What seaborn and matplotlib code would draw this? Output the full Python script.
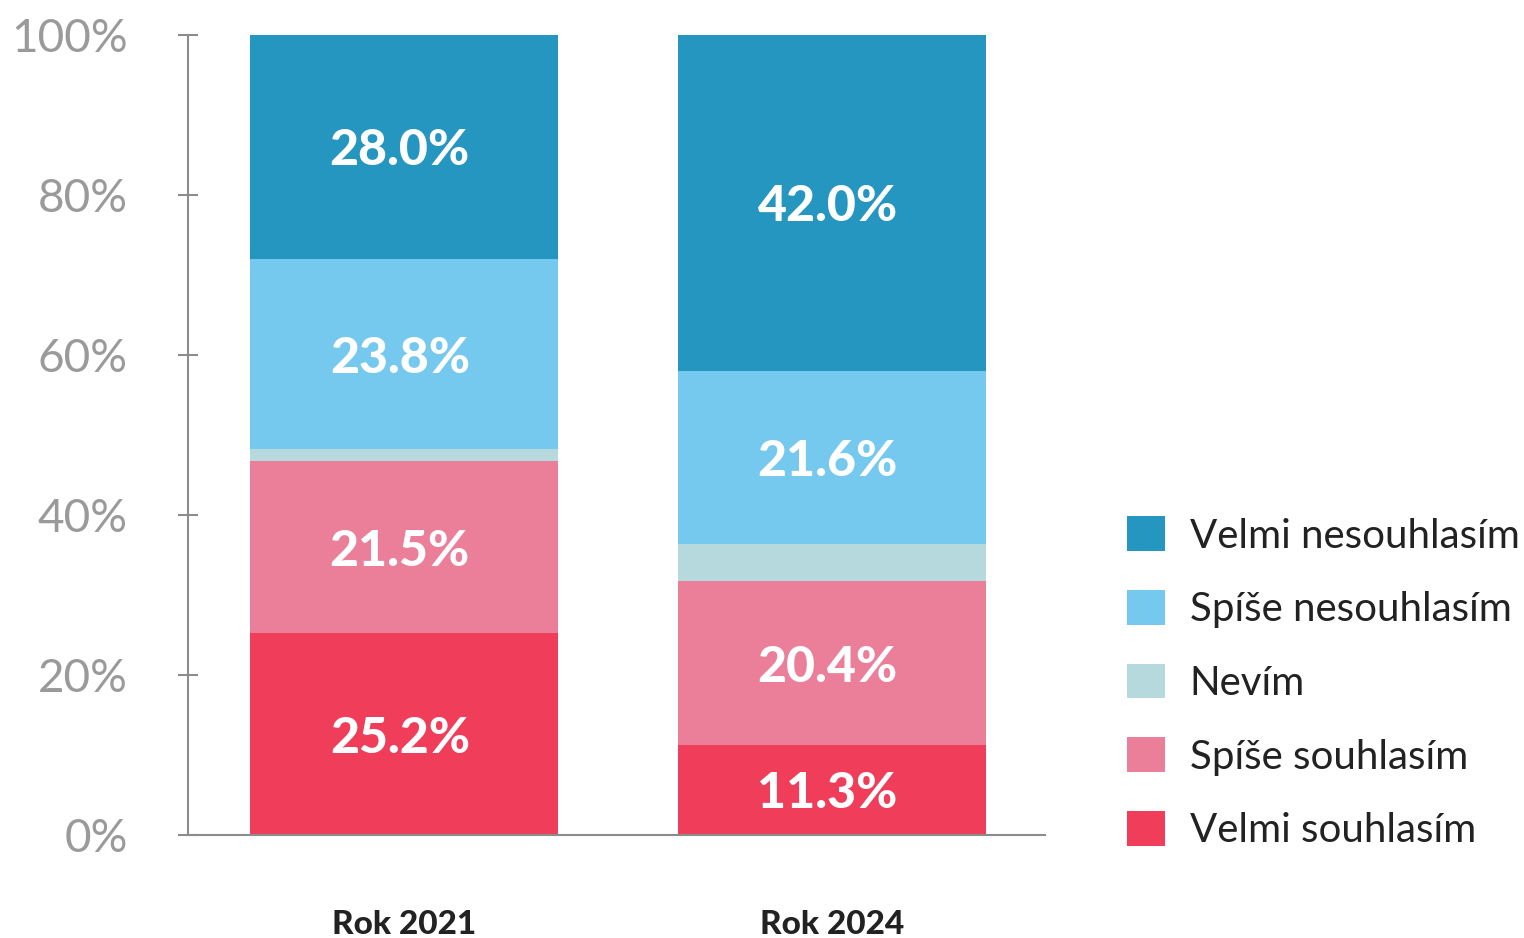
import pandas as pd
import matplotlib.pyplot as plt
import seaborn as sns
from matplotlib.patches import Patch

# Data
years = ['Rok 2021', 'Rok 2024']
answers = ['Velmi souhlasím', 'Spíše souhlasím', 'Nevím', 'Spíše nesouhlasím', 'Velmi nesouhlasím']
velmi_souhlasim = [25.2, 11.3]
spise_souhlasim = [21.5, 20.4]
nevim = [1.5, 4.7]
spise_nesouhlasim = [23.8, 21.6]
velmi_nesouhlasim = [28.0, 42.0]

colors = ['#EF3D5A', '#EB7F99', '#B6D9DD', '#76C9EE', '#2496BF']

series = [velmi_souhlasim, spise_souhlasim, nevim, spise_nesouhlasim, velmi_nesouhlasim]

sns.set_style('white')
plt.rcParams['font.family'] = ['Lato', 'DejaVu Sans']

fig = plt.figure(figsize=(15.24, 9.38), dpi=100)
ax = fig.add_axes([0.1234, 0.1098, 0.5623, 0.8529])

bottom = [0.0, 0.0]
for name, vals, col in zip(answers, series, colors):
    df = pd.DataFrame({'rok': years, 'pct': vals})
    sns.barplot(data=df, x='rok', y='pct', color=col, width=0.72,
                bottom=bottom, errorbar=None, saturation=1, linewidth=0, ax=ax)
    # labels only for the bigger segments
    for i, v in enumerate(vals):
        if v > 10:
            ax.text(i - 0.01, bottom[i] + v / 2, f'{v:.1f}%', ha='center', va='center_baseline',
                    color='white', fontsize=36, fontweight='black')
    bottom = [b + v for b, v in zip(bottom, vals)]

ax.set_xlim(-0.505, 1.498)
ax.set_ylim(0, 100)
ax.set_yticks([0, 20, 40, 60, 80, 100])
ax.set_yticklabels(['0%', '20%', '40%', '60%', '80%', '100%'])
ax.set_xlabel('')
ax.set_ylabel('')

sns.despine(ax=ax, top=True, right=True)
for s in ['left', 'bottom']:
    ax.spines[s].set_color('#8c8c8c')
    ax.spines[s].set_linewidth(1.5)

ax.tick_params(axis='y', direction='inout', length=15, width=1.5, color='#8c8c8c',
               labelsize=33, labelcolor='#9a9a9a', pad=36, left=True)
ax.tick_params(axis='x', length=0, pad=54, labelsize=24)
for lbl in ax.get_xticklabels():
    lbl.set_fontweight('black')
    lbl.set_color('#222222')

handles = [Patch(facecolor=c, edgecolor='none') for c in colors][::-1]
leg = fig.legend(handles, answers[::-1], loc='center left',
                 bbox_to_anchor=(0.7396, 0.272), frameon=False, fontsize=29,
                 handlelength=0.95, handleheight=0.95, handletextpad=0.6,
                 labelspacing=0.88, borderpad=0, borderaxespad=0)
for t in leg.get_texts():
    t.set_color('#222222')

fig.savefig('out.png', dpi=100)
